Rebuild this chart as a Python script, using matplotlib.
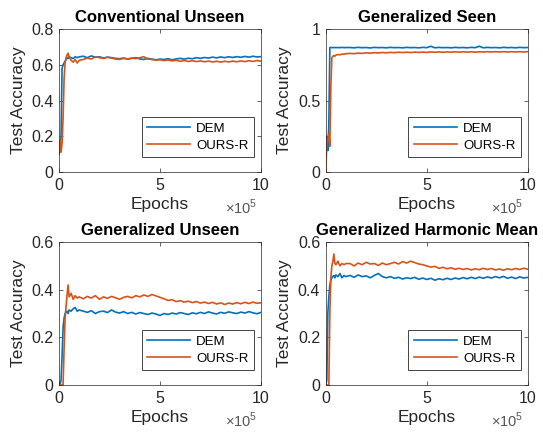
import numpy as np
import matplotlib
matplotlib.use("Agg")
import matplotlib.pyplot as plt

plt.rcParams['font.family'] = ['Liberation Sans', 'DejaVu Sans']
plt.rcParams['mathtext.fontset'] = 'custom'
plt.rcParams['mathtext.rm'] = 'Liberation Sans'

# epochs sampled, in units of 1e5
early_x = [0, 0.05, 0.1, 0.15, 0.2, 0.25, 0.3, 0.35, 0.4, 0.45, 0.5, 0.6, 0.7, 0.8, 0.9, 1.0]
late_x = [1.2, 1.4, 1.6, 1.8, 2.0, 2.2, 2.4, 2.6, 2.8, 3.0, 3.2, 3.4, 3.6, 3.8, 4.0,
          4.2, 4.4, 4.6, 4.8, 5.0, 5.2, 5.4, 5.6, 5.8, 6.0, 6.2, 6.4, 6.6, 6.8, 7.0,
          7.2, 7.4, 7.6, 7.8, 8.0, 8.2, 8.4, 8.6, 8.8, 9.0, 9.2, 9.4, 9.6, 9.8, 10.0]
epochs = np.array(early_x + late_x)

titles = ["Conventional Unseen", "Generalized Seen", "Generalized Unseen", "Generalized Harmonic Mean"]
ylims = [(0, 0.8), (0, 1), (0, 0.6), (0, 0.6)]
yticks = [[0, 0.2, 0.4, 0.6, 0.8], [0, 0.5, 1], [0, 0.2, 0.4, 0.6], [0, 0.2, 0.4, 0.6]]
ytick_labels = [["0", "0.2", "0.4", "0.6", "0.8"], ["0", "0.5", "1"],
                ["0", "0.2", "0.4", "0.6"], ["0", "0.2", "0.4", "0.6"]]
xticks = [0, 5, 10]

cu_dem = [0.10, 0.12, 0.20, 0.58, 0.60, 0.61, 0.62, 0.63, 0.64, 0.635, 0.645, 0.64, 0.635, 0.645, 0.64, 0.645,
          0.648, 0.64, 0.65, 0.642, 0.645, 0.638, 0.643, 0.64, 0.636, 0.634, 0.638, 0.632, 0.636, 0.64, 0.633,
          0.63, 0.636, 0.632, 0.628, 0.632, 0.63, 0.634, 0.628, 0.633, 0.636, 0.632, 0.637, 0.634, 0.64, 0.636,
          0.641, 0.638, 0.643, 0.639, 0.644, 0.64, 0.645, 0.641, 0.646, 0.642, 0.647, 0.643, 0.648, 0.644, 0.646]
cu_ours = [0.13, 0.18, 0.11, 0.16, 0.30, 0.52, 0.61, 0.64, 0.655, 0.665, 0.645, 0.625, 0.615, 0.63, 0.61, 0.625,
           0.63, 0.638, 0.632, 0.645, 0.64, 0.636, 0.642, 0.638, 0.632, 0.63, 0.636, 0.633, 0.638, 0.635, 0.64,
           0.645, 0.632, 0.63, 0.626, 0.628, 0.624, 0.627, 0.622, 0.625, 0.62, 0.624, 0.619, 0.623, 0.618, 0.622,
           0.617, 0.621, 0.616, 0.62, 0.615, 0.62, 0.616, 0.621, 0.617, 0.622, 0.618, 0.623, 0.619, 0.624, 0.62]

gs_dem = [0.13, 0.25, 0.15, 0.33, 0.87, 0.872, 0.87, 0.871, 0.87, 0.872, 0.87, 0.871, 0.87, 0.872, 0.87, 0.871,
          0.871, 0.869, 0.872, 0.87, 0.871, 0.868, 0.872, 0.87, 0.871, 0.869, 0.872, 0.87, 0.871, 0.869, 0.872,
          0.87, 0.871, 0.869, 0.872, 0.87, 0.88, 0.869, 0.872, 0.87, 0.871, 0.869, 0.872, 0.87, 0.871, 0.869,
          0.872, 0.87, 0.88, 0.869, 0.872, 0.87, 0.871, 0.869, 0.872, 0.87, 0.871, 0.869, 0.872, 0.87, 0.871]
gs_ours = [0.0, 0.20, 0.22, 0.27, 0.18, 0.60, 0.80, 0.81, 0.815, 0.81, 0.818, 0.822, 0.82, 0.825, 0.824, 0.828,
           0.83, 0.828, 0.832, 0.83, 0.834, 0.832, 0.835, 0.833, 0.836, 0.834, 0.837, 0.835, 0.838, 0.836, 0.838,
           0.836, 0.839, 0.837, 0.839, 0.837, 0.84, 0.838, 0.84, 0.838, 0.84, 0.839, 0.841, 0.839, 0.841, 0.839,
           0.841, 0.839, 0.841, 0.84, 0.842, 0.84, 0.842, 0.84, 0.842, 0.84, 0.842, 0.84, 0.842, 0.84, 0.842]

gu_dem = [0.0, 0.0, 0.02, 0.12, 0.24, 0.28, 0.30, 0.305, 0.31, 0.30, 0.315, 0.31, 0.32, 0.325, 0.31, 0.315,
          0.31, 0.305, 0.312, 0.30, 0.308, 0.31, 0.304, 0.315, 0.306, 0.302, 0.308, 0.30, 0.305, 0.298, 0.304,
          0.30, 0.296, 0.302, 0.298, 0.292, 0.30, 0.296, 0.302, 0.298, 0.304, 0.30, 0.296, 0.303, 0.299, 0.305,
          0.30, 0.307, 0.302, 0.298, 0.305, 0.301, 0.307, 0.303, 0.30, 0.306, 0.302, 0.308, 0.303, 0.299, 0.305]
gu_ours = [0.0, 0.0, 0.0, 0.0, 0.0, 0.15, 0.28, 0.33, 0.38, 0.42, 0.37, 0.385, 0.36, 0.375, 0.365, 0.37,
           0.362, 0.372, 0.365, 0.375, 0.36, 0.37, 0.364, 0.372, 0.366, 0.36, 0.368, 0.372, 0.366, 0.375, 0.37,
           0.378, 0.372, 0.38, 0.374, 0.368, 0.362, 0.355, 0.358, 0.35, 0.354, 0.348, 0.352, 0.346, 0.35, 0.344,
           0.348, 0.342, 0.347, 0.34, 0.345, 0.338, 0.344, 0.34, 0.346, 0.341, 0.347, 0.342, 0.348, 0.343, 0.345]

hm_dem = [0.0, 0.02, 0.30, 0.37, 0.42, 0.44, 0.45, 0.455, 0.46, 0.45, 0.462, 0.455, 0.468, 0.45, 0.46, 0.455,
          0.46, 0.452, 0.462, 0.455, 0.458, 0.45, 0.46, 0.468, 0.455, 0.45, 0.455, 0.448, 0.452, 0.445, 0.45,
          0.447, 0.452, 0.444, 0.449, 0.443, 0.448, 0.44, 0.446, 0.442, 0.448, 0.443, 0.449, 0.445, 0.451, 0.446,
          0.452, 0.447, 0.453, 0.448, 0.454, 0.449, 0.455, 0.45, 0.456, 0.448, 0.453, 0.447, 0.454, 0.449, 0.452]
hm_ours = [0.0, 0.0, 0.0, 0.0, 0.30, 0.45, 0.50, 0.52, 0.55, 0.51, 0.505, 0.52, 0.50, 0.51, 0.505, 0.51,
           0.51, 0.50, 0.512, 0.505, 0.515, 0.508, 0.51, 0.502, 0.512, 0.505, 0.51, 0.515, 0.508, 0.518, 0.512,
           0.52, 0.514, 0.508, 0.505, 0.50, 0.495, 0.498, 0.49, 0.494, 0.488, 0.492, 0.486, 0.49, 0.485, 0.489,
           0.483, 0.488, 0.484, 0.49, 0.485, 0.489, 0.483, 0.487, 0.482, 0.488, 0.484, 0.489, 0.485, 0.49, 0.486]

dem_series = [cu_dem, gs_dem, gu_dem, hm_dem]
ours_series = [cu_ours, gs_ours, gu_ours, hm_ours]

blue = "#0072BD"
orange = "#D95319"
dark = "#262626"

fig = plt.figure(figsize=(5.43, 4.33), dpi=100)
positions = [[0.1087, 0.6028, 0.372, 0.330], [0.600, 0.6028, 0.372, 0.330],
             [0.1087, 0.1109, 0.372, 0.330], [0.600, 0.1109, 0.372, 0.330]]

for i in range(4):
    ax = fig.add_axes(positions[i])
    ax.plot(epochs, dem_series[i], color=blue, lw=1.2, label="DEM")
    ax.plot(epochs, ours_series[i], color=orange, lw=1.2, label="OURS-R")
    ax.set_xlim(0, 10)
    ax.set_ylim(*ylims[i])
    ax.set_xticks(xticks)
    ax.set_xticklabels([str(t) for t in xticks])
    ax.set_yticks(yticks[i])
    ax.set_yticklabels(ytick_labels[i])
    ax.tick_params(direction="in", top=True, right=True, length=3, width=0.5,
                   labelsize=11.5, colors=dark, pad=4)
    for s in ax.spines.values():
        s.set_linewidth(0.5)
        s.set_color(dark)
    ax.set_title(titles[i], fontsize=12, fontweight="bold", pad=5)
    ax.set_xlabel("Epochs", fontsize=12.5, color=dark, labelpad=3)
    ax.set_ylabel("Test Accuracy", fontsize=12.5, color=dark, labelpad=4)
    ax.text(0.98, -0.18, r"$\times10^5$", transform=ax.transAxes, ha="right", va="top",
            fontsize=10.5, color="#555555")
    leg = ax.legend(loc="lower right", bbox_to_anchor=(0.965, 0.105), borderaxespad=0,
                    fontsize=9.5, handlelength=3.3, fancybox=False, framealpha=1,
                    edgecolor=dark, labelspacing=0.35, handletextpad=0.45, borderpad=0.4)
    leg.get_frame().set_linewidth(0.6)

fig.savefig("out.png", dpi=100)
